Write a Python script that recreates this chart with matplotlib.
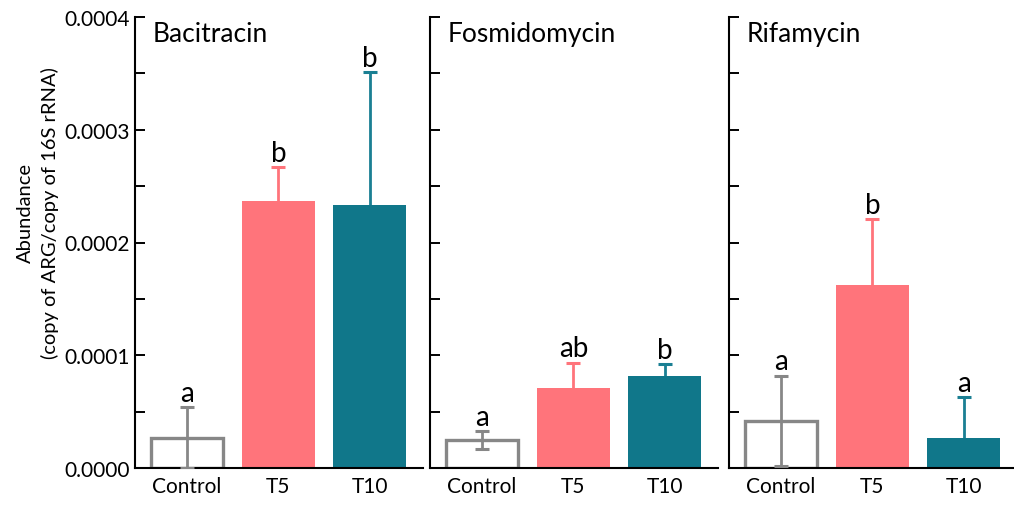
import matplotlib
matplotlib.use("Agg")
import matplotlib.pyplot as plt
from matplotlib.ticker import MultipleLocator, FormatStrFormatter

plt.rcParams['font.family'] = ['Lato', 'DejaVu Sans']

categories = ["Control", "T5", "T10"]
panels = ["Bacitracin", "Fosmidomycin", "Rifamycin"]
means = {
    "Bacitracin":   [0.0000265, 0.000237, 0.000233],
    "Fosmidomycin": [0.0000248, 0.0000710, 0.0000815],
    "Rifamycin":    [0.0000417, 0.000162, 0.0000265],
}
errors = {
    "Bacitracin":   [0.0000275, 0.0000300, 0.000118],
    "Fosmidomycin": [0.0000080, 0.0000225, 0.0000105],
    "Rifamycin":    [0.0000400, 0.0000585, 0.0000365],
}
letters = {
    "Bacitracin":   ["a", "b", "b"],
    "Fosmidomycin": ["a", "ab", "b"],
    "Rifamycin":    ["a", "b", "a"],
}
yticks = [0.0000, 0.0001, 0.0002, 0.0003, 0.0004]
ylabel = "Abundance\n(copy of ARG/copy of 16S rRNA)"

face_colors = ["white", "#FF747B", "#10778A"]
edge_colors = ["#878787", "#FF747B", "#10778A"]
err_colors = ["#878787", "#FF747B", "#1A7F93"]

W, H = 1014, 506
fig = plt.figure(figsize=(W / 100, H / 100), dpi=100)

lefts = [135, 430, 729]
ax_top, ax_bot = 18, 469
unit = 91.3
x_lo, x_hi = -0.57, 2.58
width_px = (x_hi - x_lo) * unit

for i, (name, left) in enumerate(zip(panels, lefts)):
    ax = fig.add_axes([left / W, 1 - ax_bot / H, width_px / W, (ax_bot - ax_top) / H])
    xs = list(range(len(categories)))
    vals = means[name]
    errs = errors[name]
    for j, x in enumerate(xs):
        if j == 0:
            ax.bar(x, vals[j], width=0.78, color="none", edgecolor=edge_colors[j],
                   linewidth=2.4, zorder=2)
            ax.errorbar(x, vals[j], yerr=[[min(errs[j], vals[j])], [errs[j]]],
                        ecolor=err_colors[j], elinewidth=2.0, capsize=5, capthick=2.2,
                        fmt="none", zorder=3)
        else:
            ax.bar(x, vals[j], width=0.8, color=face_colors[j], edgecolor="none", zorder=2)
            ax.errorbar(x, vals[j], yerr=errs[j],
                        ecolor=err_colors[j], elinewidth=2.0, capsize=5, capthick=2.2,
                        fmt="none", zorder=1)
        ax.annotate(letters[name][j], xy=(x, vals[j] + errs[j]), xytext=(0, 1),
                    textcoords="offset points", ha="center", va="bottom", fontsize=20,
                    zorder=4)
    ax.set_xlim(x_lo, x_hi)
    ax.set_ylim(0, 0.0004)
    ax.set_xticks(xs)
    ax.set_xticklabels(categories, fontsize=15)
    ax.tick_params(axis="x", length=0, pad=6)
    ax.set_yticks(yticks)
    ax.yaxis.set_minor_locator(MultipleLocator(0.00005))
    ax.tick_params(axis="y", which="both", direction="in", length=7, width=1.4)
    if i == 0:
        ax.yaxis.set_major_formatter(FormatStrFormatter("%.4f"))
        ax.tick_params(axis="y", labelsize=15, pad=4)
    else:
        ax.set_yticklabels([])
    for s in ["top", "right"]:
        ax.spines[s].set_visible(False)
    for s in ["left", "bottom"]:
        ax.spines[s].set_linewidth(1.5)
        ax.spines[s].set_color("black")
    ax.text(18 / width_px, 1.0 - 4 / (ax_bot - ax_top), name, transform=ax.transAxes,
            ha="left", va="top", fontsize=19)

fig.text(38 / W, 1 - 213 / H, ylabel, rotation=90, ha="center", va="center",
         fontsize=14.5, multialignment="center", linespacing=1.5)

fig.savefig("out.png", dpi=100)
